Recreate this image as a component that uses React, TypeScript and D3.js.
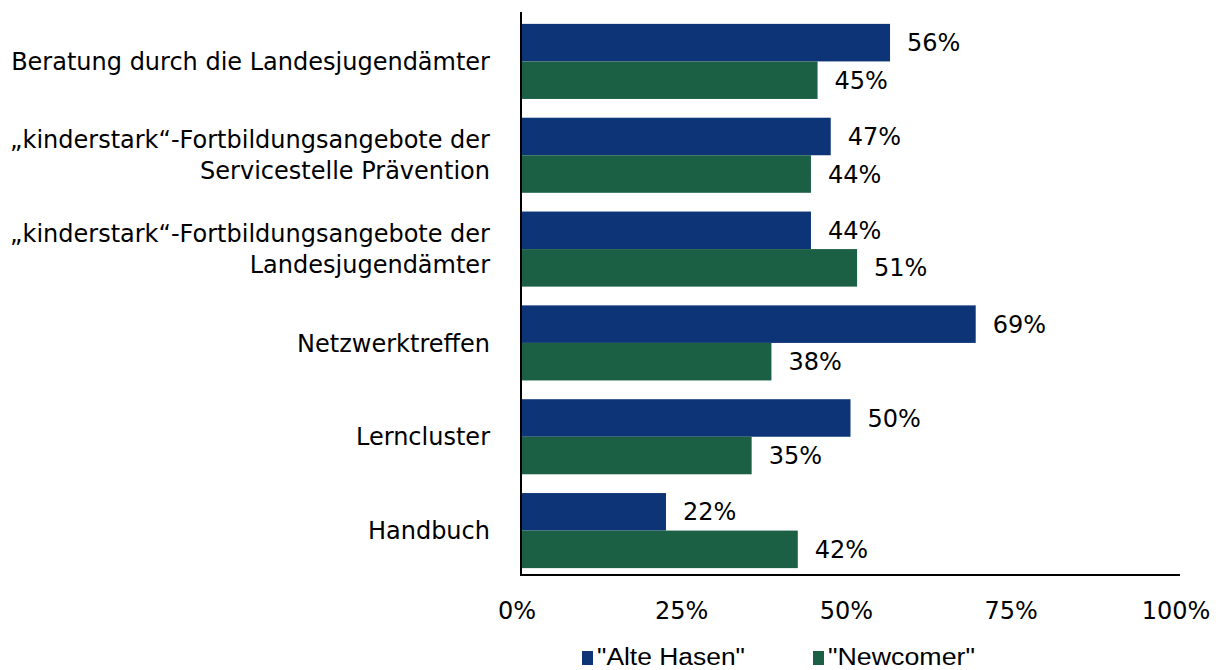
import React, { useEffect, useRef } from 'react';
import * as d3 from 'd3';

const categories: string[][] = [
  ['Beratung durch die Landesjugendämter'],
  ['„kinderstark“-Fortbildungsangebote der', 'Servicestelle Prävention'],
  ['„kinderstark“-Fortbildungsangebote der', 'Landesjugendämter'],
  ['Netzwerktreffen'],
  ['Lerncluster'],
  ['Handbuch'],
];
const alteHasen = [56, 47, 44, 69, 50, 22];
const newcomer = [45, 44, 51, 38, 35, 42];
const seriesNames = ['"Alte Hasen"', '"Newcomer"'];
const seriesColors = ['#0d3476', '#1b5f45'];
const ticks = [0, 25, 50, 75, 100];

export default function App() {
  const ref = useRef<SVGSVGElement>(null);

  useEffect(() => {
    const svg = d3.select(ref.current);
    svg.selectAll('*').remove();

    const font = 'DejaVu Sans, Verdana, sans-serif';
    const fs = 24;
    const x0 = 521;
    const x = d3.scaleLinear().domain([0, 100]).range([x0, 1180]);
    const y = d3.scaleBand<number>()
      .domain(d3.range(categories.length))
      .range([14.5, 577.5])
      .paddingInner(0.2)
      .paddingOuter(0.1);
    const sub = d3.scaleBand<number>().domain([0, 1]).range([0, y.bandwidth()]);

    const series = [alteHasen, newcomer];

    // bars + value labels
    series.forEach((vals, s) => {
      svg.append('g')
        .attr('fill', seriesColors[s])
        .selectAll('rect')
        .data(vals)
        .join('rect')
        .attr('x', x(0))
        .attr('y', (_, i) => (y(i) as number) + (sub(s) as number))
        .attr('width', d => x(d) - x(0))
        .attr('height', sub.bandwidth());

      svg.append('g')
        .selectAll('text')
        .data(vals)
        .join('text')
        .attr('x', d => x(d) + 17)
        .attr('y', (_, i) => (y(i) as number) + (sub(s) as number) + sub.bandwidth() / 2)
        .attr('dy', '0.36em')
        .attr('font-family', font)
        .attr('font-size', fs)
        .attr('fill', '#000')
        .text(d => `${d}%`);
    });

    // category labels
    const labels = svg.append('g')
      .selectAll('text')
      .data(categories)
      .join('text')
      .attr('text-anchor', 'end')
      .attr('font-family', font)
      .attr('font-size', fs)
      .attr('fill', '#000');
    labels.each(function (lines, i) {
      const cy = (y(i) as number) + y.bandwidth() / 2;
      const lh = 31;
      const top = cy - ((lines.length - 1) * lh) / 2;
      d3.select(this)
        .selectAll('tspan')
        .data(lines)
        .join('tspan')
        .attr('x', 490)
        .attr('y', (_, j) => top + j * lh)
        .attr('dy', '0.36em')
        .text(d => d);
    });

    // axis lines
    svg.append('line')
      .attr('x1', x0).attr('x2', x0)
      .attr('y1', 12).attr('y2', 576)
      .attr('stroke', '#000').attr('stroke-width', 2);
    svg.append('line')
      .attr('x1', x0 - 1).attr('x2', x(100))
      .attr('y1', 575).attr('y2', 575)
      .attr('stroke', '#000').attr('stroke-width', 2);

    // tick labels
    svg.append('g')
      .selectAll('text')
      .data(ticks)
      .join('text')
      .attr('x', d => x(d) - 4)
      .attr('y', 610)
      .attr('dy', '0.36em')
      .attr('text-anchor', 'middle')
      .attr('font-family', font)
      .attr('font-size', fs)
      .attr('fill', '#000')
      .text(d => `${d}%`);

    // legend
    const legendX = [582, 813];
    seriesNames.forEach((name, s) => {
      svg.append('rect')
        .attr('x', legendX[s]).attr('y', 651)
        .attr('width', 11).attr('height', 14)
        .attr('fill', seriesColors[s]);
      svg.append('text')
        .attr('x', legendX[s] + 15).attr('y', 657)
        .attr('dy', '0.36em')
        .attr('font-family', 'Liberation Sans, Arial, sans-serif')
        .attr('font-size', 23)
        .attr('textLength', s === 0 ? 148 : 147)
        .attr('lengthAdjust', 'spacingAndGlyphs')
        .attr('fill', '#000')
        .text(name);
    });
  }, []);

  return (
    <svg
      ref={ref}
      width={1218}
      height={670}
      style={{ position: 'absolute', left: 0, top: 0, background: '#fff' }}
    />
  );
}
